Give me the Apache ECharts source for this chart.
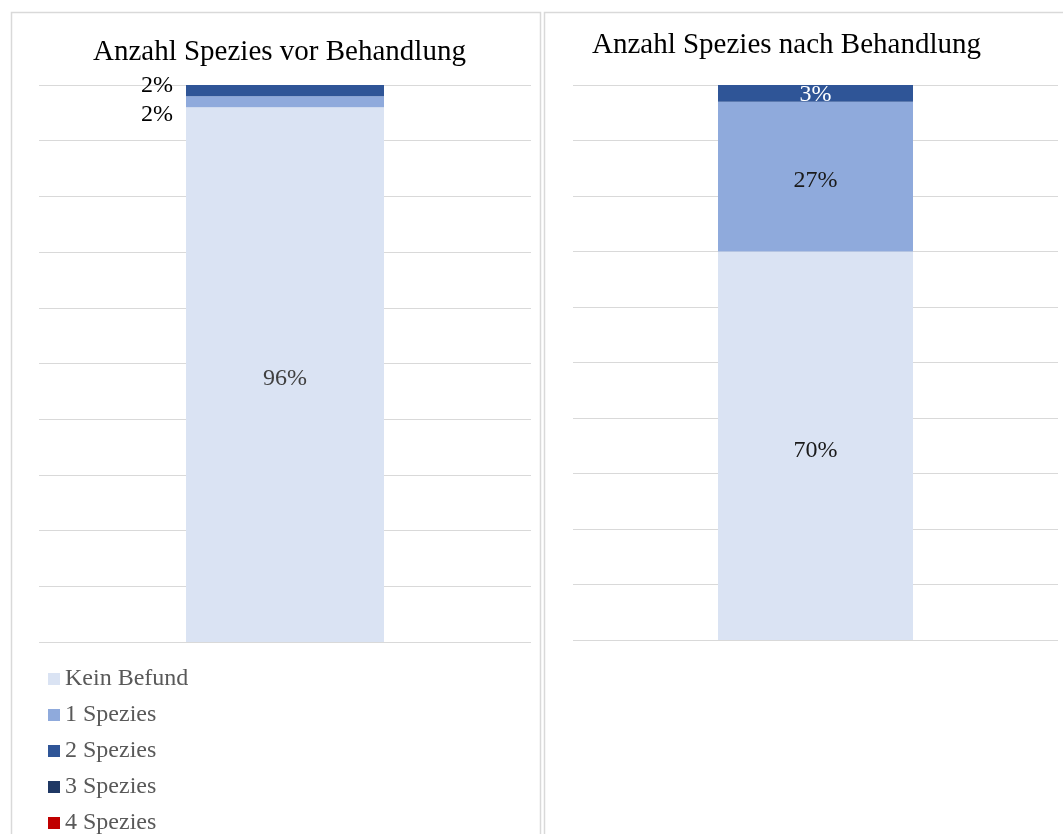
<!DOCTYPE html>
<html>
<head>
<meta charset="utf-8">
<script src="https://cdn.jsdelivr.net/npm/echarts@6/dist/echarts.min.js"></script>
<style>
  html, body { margin: 0; padding: 0; background: #ffffff; }
  #chart { width: 1063px; height: 834px; }
</style>
</head>
<body>
<div id="chart"></div>
<script>
// Share of samples by number of species found, before and after treatment (percent)
const speciesNames = ['Kein Befund', '1 Spezies', '2 Spezies', '3 Spezies', '4 Spezies'];
const vorValues = [96, 2, 2, 0, 0];
const nachValues = [70, 27, 3, 0, 0];
const panelTitles = ['Anzahl Spezies vor Behandlung', 'Anzahl Spezies nach Behandlung'];
const categories = ['vor', 'nach'];

const colors = ['#dae3f3', '#8faadc', '#2f5597', '#1f3864', '#c00000'];
const serif = '"Liberation Serif", "Times New Roman", serif';

// label styling per panel and segment
const vorLabels = [
  { show: true, position: 'inside', offset: [0, 4], color: '#404040' },
  { show: true, position: 'left', distance: 13, offset: [0, 13], color: '#000000' },
  { show: true, position: 'left', distance: 13, offset: [0, -5], color: '#000000' },
  { show: false },
  { show: false }
];
const nachLabels = [
  { show: true, position: 'inside', offset: [0, 5], color: '#1a1a1a' },
  { show: true, position: 'inside', offset: [0, 4], color: '#1a1a1a' },
  { show: true, position: 'inside', offset: [0, 1], color: '#ffffff' },
  { show: false },
  { show: false }
];

function buildSeries(values, gridIndex, labels, barWidth) {
  return speciesNames.map((name, i) => ({
    name: name,
    type: 'bar',
    stack: 'panel' + gridIndex,
    xAxisIndex: gridIndex,
    yAxisIndex: gridIndex,
    barWidth: barWidth,
    itemStyle: { color: colors[i] },
    label: Object.assign({
      fontFamily: serif,
      fontSize: 24,
      formatter: p => (p.value ? p.value + '%' : '')
    }, labels[i]),
    data: [values[i]]
  }));
}

const chart = echarts.init(document.getElementById('chart'), null, { renderer: 'canvas' });

const yAxisBase = {
  type: 'value',
  min: 0,
  max: 100,
  interval: 10,
  axisLabel: { show: false },
  axisLine: { show: false },
  axisTick: { show: false },
  splitLine: { lineStyle: { color: '#d9d9d9', width: 1 } }
};
const xAxisBase = {
  type: 'category',
  axisLabel: { show: false },
  axisLine: { show: false },
  axisTick: { show: false }
};

chart.setOption({
  backgroundColor: '#ffffff',
  animation: false,
  graphic: [
    { type: 'rect', shape: { x: 11.5, y: 12.5, width: 529, height: 840 },
      style: { fill: 'none', stroke: '#d9d9d9', lineWidth: 1.5 }, silent: true },
    { type: 'rect', shape: { x: 544.5, y: 12.5, width: 530, height: 840 },
      style: { fill: 'none', stroke: '#d9d9d9', lineWidth: 1.5 }, silent: true }
  ],
  title: [
    { text: panelTitles[0], left: 88, top: 33,
      textStyle: { fontFamily: serif, fontSize: 29, fontWeight: 'normal', color: '#000000' } },
    { text: panelTitles[1], left: 587, top: 26,
      textStyle: { fontFamily: serif, fontSize: 29, fontWeight: 'normal', color: '#000000' } }
  ],
  legend: {
    orient: 'vertical',
    left: 48,
    top: 667,
    padding: 0,
    height: 200,
    selectedMode: false,
    icon: 'rect',
    itemWidth: 12,
    itemHeight: 12,
    itemGap: 12,
    data: speciesNames,
    textStyle: { fontFamily: serif, fontSize: 24, lineHeight: 24, color: '#595959' }
  },
  grid: [
    { left: 39, top: 85, width: 492, height: 557 },
    { left: 573, top: 85, width: 485, height: 555 }
  ],
  xAxis: [
    Object.assign({ gridIndex: 0, data: [categories[0]] }, xAxisBase),
    Object.assign({ gridIndex: 1, data: [categories[1]] }, xAxisBase)
  ],
  yAxis: [
    Object.assign({ gridIndex: 0 }, yAxisBase),
    Object.assign({ gridIndex: 1 }, yAxisBase)
  ],
  series: buildSeries(vorValues, 0, vorLabels, 198).concat(buildSeries(nachValues, 1, nachLabels, 195))
});
</script>
</body>
</html>
